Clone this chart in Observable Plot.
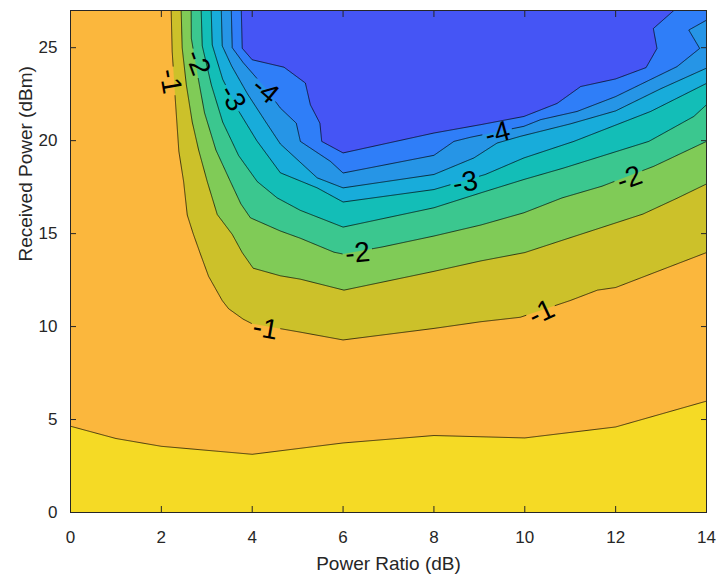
<!DOCTYPE html>
<html><head><meta charset="utf-8">
<script src="https://cdn.jsdelivr.net/npm/d3@7"></script>
<script src="https://cdn.jsdelivr.net/npm/@observablehq/plot@0.6"></script>
<style>
body{margin:0;background:#fff;}
#chart svg{font-family:"Liberation Sans",Arial,Helvetica,sans-serif;}
</style>
</head><body><div id="chart"></div>
<script>
// Axis ranges and ticks
const xDomain = [0, 14];
const yDomain = [0, 27];
const xTicks = [0, 2, 4, 6, 8, 10, 12, 14];
const yTicks = [0, 5, 10, 15, 20, 25];
const xLabel = "Power Ratio (dB)";
const yLabel = "Received Power (dBm)";

// Contour levels and band colours (band i lies above contour i-1, below contour i)
const levels = [-0.5, -1, -1.5, -2, -2.5, -3, -3.5, -4, -4.5];
const bandColors = ["#F5DA25", "#FBB73D", "#CCC12A", "#80CB57", "#3BC78F",
                    "#13BEB7", "#18ACDA", "#2695E6", "#2F7EF8", "#4555F5"];

// Contour lines (x in dB, y in dBm)
const c05x = [0, 1, 2, 4, 6, 8, 10, 12, 14];
const c05y = [4.64, 3.98, 3.56, 3.13, 3.74, 4.14, 4.01, 4.6, 5.99];

const c10x = [2.216, 2.238, 2.31, 2.385, 2.49, 2.57, 2.7, 2.86, 3.04, 3.34, 3.48, 3.8, 4.0, 5.06, 6.0, 8.0, 9.03, 9.9, 11.0, 11.6, 12.0, 14];
const c10y = [27, 24.8, 22.1, 19.43, 17.8, 16.0, 15.0, 13.9, 12.7, 11.4, 10.96, 10.4, 10.15, 9.7, 9.28, 9.9, 10.26, 10.5, 11.4, 11.96, 12.1, 13.98];

const c15x = [2.436, 2.458, 2.55, 2.68, 2.82, 3.01, 3.23, 3.56, 3.78, 4.02, 4.62, 5.06, 6.02, 8.0, 9.03, 10.0, 10.85, 12.6, 13.35, 14];
const c15y = [27, 25.0, 23.0, 21.0, 19.5, 17.8, 16.03, 14.96, 13.98, 13.14, 12.73, 12.55, 11.96, 12.97, 13.53, 13.98, 14.66, 16.05, 16.9, 17.67];

const c20x = [2.656, 2.66, 2.8, 2.95, 3.2, 3.52, 3.75, 3.96, 4.62, 5.06, 5.8, 6.0, 6.86, 8.0, 9.03, 9.98, 10.82, 11.7, 12.84, 14];
const c20y = [27, 25.5, 23.5, 21.5, 19.5, 17.8, 16.6, 15.85, 15.14, 14.75, 14.0, 13.9, 14.28, 14.87, 15.46, 16.12, 16.92, 17.55, 18.62, 19.96];

const c25x = [2.877, 2.9, 3.1, 3.35, 3.7, 4.11, 4.55, 5.06, 6.0, 8.0, 9.03, 9.98, 10.86, 12.73, 13.72, 14];
const c25y = [27, 25.1, 23.0, 21.0, 19.2, 17.8, 16.92, 16.25, 15.35, 16.39, 17.19, 17.91, 18.53, 19.96, 21.3, 21.93];

const c30x = [3.097, 3.12, 3.35, 3.7, 4.1, 4.62, 5.43, 6.0, 8.0, 9.13, 9.98, 11.08, 12.77, 14];
const c30y = [27, 25.15, 23.3, 21.6, 20.0, 18.27, 17.46, 16.7, 17.37, 18.18, 19.07, 19.96, 21.57, 23.08];

const c35x = [3.32, 3.34, 3.55, 3.9, 4.3, 4.62, 5.43, 6.0, 8.0, 8.88, 9.39, 9.9, 11.0, 12.0, 13.0, 14];
const c35y = [27, 25.1, 24.0, 22.5, 21.0, 19.82, 18.0, 17.46, 18.18, 19.07, 19.87, 20.23, 20.9, 21.6, 22.8, 23.9];

const c40x = [3.54, 3.56, 3.8, 4.3, 4.62, 4.97, 5.06, 5.72, 6.0, 8.0, 8.44, 8.8, 9.98, 10.35, 11.15, 12.0, 13.35, 13.85, 13.61, 14];
const c40y = [27, 25.0, 24.2, 22.8, 21.75, 20.94, 19.96, 18.89, 18.26, 19.21, 19.96, 20.18, 20.77, 21.13, 21.57, 22.37, 23.98, 24.96, 25.95, 26.48];

const c45x = [3.76, 3.78, 4.0, 4.7, 5.17, 5.28, 5.49, 5.53, 6.0, 8.0, 9.03, 9.98, 10.71, 11.23, 12.0, 12.67, 12.91, 12.83, 13.28];
const c45y = [27, 24.97, 24.35, 23.95, 23.1, 21.93, 20.94, 19.96, 19.34, 20.41, 20.86, 21.3, 22.0, 22.91, 23.32, 23.93, 24.96, 26.03, 27];

const contourXs = [c05x, c10x, c15x, c20x, c25x, c30x, c35x, c40x, c45x];
const contourYs = [c05y, c10y, c15y, c20y, c25y, c30y, c35y, c40y, c45y];

// Inline contour labels
const labelText  = ["-1", "-2", "-3", "-4", "-4", "-3", "-2", "-2", "-1", "-1"];
const labelX     = [2.2, 2.8, 3.57, 4.29, 9.4, 8.69, 6.32, 12.3, 4.29, 10.37];
const labelY     = [23.2, 24.2, 22.3, 22.7, 20.4, 17.75, 13.95, 17.98, 9.88, 10.75];
const labelAngle = [80, 70, 60, 40, -15, -10, -5, -20, 10, -25];

// ---- layout ----
const W = 718, H = 576, mL = 70, mR = 12, mT = 10, mB = 64;
const kx = (W - mL - mR) / (xDomain[1] - xDomain[0]);
const ky = (H - mT - mB) / (yDomain[1] - yDomain[0]);
const gapR = 15; // px: line gap around inline labels

const labels = labelText.map((t, i) => ({t, level: +t, x: labelX[i], y: labelY[i], a: labelAngle[i]}));
const linePts = contourXs.map((xs, k) => xs.map((x, i) => ({x, y: contourYs[k][i]})));

function regionPts(pts) {
  const out = pts.slice();
  const first = pts[0], last = pts[pts.length - 1];
  if (last.x >= xDomain[1] && last.y < yDomain[1]) out.push({x: xDomain[1], y: yDomain[1]});
  if (first.x <= xDomain[0] && first.y < yDomain[1]) out.push({x: xDomain[0], y: yDomain[1]});
  return out;
}
// break a contour line where its own labels sit
function gappedPts(pts, level) {
  const labs = labels.filter(l => l.level === level);
  const hidden = (x, y) => labs.some(l => Math.hypot((x - l.x) * kx, (y - l.y) * ky) < gapR);
  const out = [];
  for (let i = 0; i < pts.length - 1; i++) {
    const a = pts[i], b = pts[i + 1];
    const n = Math.max(1, Math.ceil(Math.hypot((b.x - a.x) * kx, (b.y - a.y) * ky)));
    for (let j = 0; j < n; j++) {
      const x = a.x + (b.x - a.x) * j / n, y = a.y + (b.y - a.y) * j / n;
      out.push({x, y: hidden(x, y) ? NaN : y});
    }
  }
  const e = pts[pts.length - 1];
  out.push({x: e.x, y: hidden(e.x, e.y) ? NaN : e.y});
  return out;
}

const ink = "#262626";
const marks = [Plot.frame({fill: bandColors[0], stroke: "none"})];
linePts.forEach((pts, k) => {
  marks.push(Plot.line(regionPts(pts), {x: "x", y: "y", fill: bandColors[k + 1], stroke: "none", clip: true}));
});
linePts.forEach((pts, k) => {
  marks.push(Plot.line(gappedPts(pts, levels[k]), {x: "x", y: "y", stroke: "#000", strokeWidth: 0.7, clip: true}));
});
marks.push(Plot.text(labels, {x: "x", y: "y", text: "t", rotate: "a", fontSize: 28, fill: "#000", clip: true}));
marks.push(
  Plot.axisX({ticks: xTicks, tickSize: 0, tickPadding: 18, label: null, fontSize: 17}),
  Plot.axisX({ticks: xTicks, tickSize: -6, tickFormat: () => "", label: null}),
  Plot.axisX({anchor: "top", ticks: xTicks, tickSize: -6, tickFormat: () => "", label: null}),
  Plot.axisY({ticks: yTicks, tickSize: 0, tickPadding: 13, label: null, fontSize: 17}),
  Plot.axisY({ticks: yTicks, tickSize: -6, tickFormat: () => "", label: null}),
  Plot.axisY({anchor: "right", ticks: yTicks, tickSize: -6, tickFormat: () => "", label: null}),
  Plot.text([xLabel], {frameAnchor: "bottom", dy: 57, fontSize: 19, fill: ink, text: d => d}),
  Plot.text([yLabel], {frameAnchor: "left", dx: -45, rotate: -90, fontSize: 19, fill: ink, text: d => d}),
  Plot.frame({stroke: ink, strokeWidth: 1})
);

const chart = Plot.plot({
  width: W,
  height: H,
  marginTop: mT,
  marginRight: mR,
  marginBottom: mB,
  marginLeft: mL,
  x: {domain: xDomain},
  y: {domain: yDomain},
  style: {fontSize: "17px", color: ink, background: "#fff", overflow: "visible"},
  marks
});
document.getElementById("chart").appendChild(chart);
</script>
</body></html>
